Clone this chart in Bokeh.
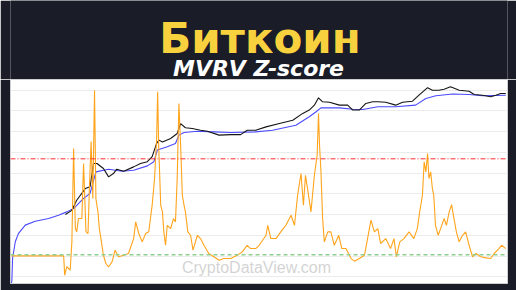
from bokeh.plotting import figure
from bokeh.models import Range1d, FixedTicker, Span, Label, LinearScale
from bokeh.layouts import column
from bokeh.core.properties import value
from bokeh.embed import file_html
from bokeh.resources import INLINE

# ---------------- data ----------------
z_years = [2009.00, 2010.52, 2010.55, 2010.61, 2010.71, 2010.76, 2010.81, 2010.86, 2010.90, 2010.95,
           2011.05, 2011.10, 2011.17, 2011.23, 2011.27, 2011.32, 2011.37, 2011.42, 2011.46, 2011.52,
           2011.56, 2011.62, 2011.68, 2011.75, 2011.83, 2011.93, 2012.02, 2012.12, 2012.27, 2012.41,
           2012.56, 2012.62, 2012.71, 2012.81, 2012.91, 2013.00, 2013.10, 2013.17, 2013.23, 2013.26,
           2013.29, 2013.35, 2013.40, 2013.44, 2013.49, 2013.54, 2013.64, 2013.72, 2013.78, 2013.83,
           2013.88, 2013.93, 2013.98, 2014.03, 2014.07, 2014.14, 2014.22, 2014.29, 2014.42, 2014.51,
           2014.61, 2014.75, 2014.90, 2015.05, 2015.19, 2015.39, 2015.58, 2015.73, 2015.87, 2015.97,
           2016.12, 2016.22, 2016.42, 2016.47, 2016.56, 2016.71, 2016.85, 2017.00, 2017.15, 2017.25,
           2017.34, 2017.44, 2017.51, 2017.57, 2017.63, 2017.73, 2017.83, 2017.91, 2017.95, 2017.98,
           2018.02, 2018.07, 2018.12, 2018.22, 2018.31, 2018.41, 2018.54, 2018.63, 2018.75, 2018.90,
           2019.00, 2019.14, 2019.29, 2019.38, 2019.48, 2019.58, 2019.68, 2019.76, 2019.91, 2020.05,
           2020.15, 2020.22, 2020.32, 2020.44, 2020.59, 2020.73, 2020.83, 2020.90, 2020.98, 2021.03,
           2021.08, 2021.13, 2021.17, 2021.22, 2021.27, 2021.31, 2021.36, 2021.44, 2021.51, 2021.61,
           2021.68, 2021.76, 2021.83, 2021.90, 2021.97, 2022.05, 2022.15, 2022.24, 2022.34, 2022.44,
           2022.54, 2022.68, 2022.83, 2022.97, 2023.07, 2023.21, 2023.29, 2023.41]
z_score = [-0.08, -0.08, -1.50, -0.86, -1.13, 0.96, 7.75, 1.91, 1.67, 2.64,
           2.64, 6.66, 1.69, 1.55, 4.83, 8.26, 4.10, 12.01, 4.10, 3.13,
           1.91, 0.96, -0.04, -0.64, -0.88, -0.52, 0.33, -0.15, -0.04, 0.09,
           1.18, 2.40, 1.55, 0.94, 1.55, 1.67, 3.61, 5.56, 8.48, 11.89,
           7.99, 3.61, 3.13, 1.67, 0.69, 2.15, 1.91, 2.64, 2.40, 5.56,
           11.04, 7.99, 4.34, 3.61, 3.13, 1.67, 1.42, 0.33, 1.42, 1.18,
           0.69, 0.09, -0.15, -0.40, -0.28, -0.28, -0.04, 0.21, 0.69, 0.45,
           0.45, 0.69, 1.42, 2.15, 1.18, 1.18, 1.67, 2.15, 2.88, 2.15,
           4.34, 5.93, 3.61, 5.80, 4.83, 3.13, 5.80, 7.26, 10.31, 7.99,
           6.17, 2.64, 0.94, 1.67, 1.67, 0.69, 1.42, 0.45, 0.45, -0.28,
           -0.47, -0.28, -0.04, 1.18, 2.52, 1.67, 1.91, 0.82, 1.18, 0.45,
           1.18, -0.15, 0.94, 1.18, 1.67, 1.18, 1.91, 3.13, 4.34, 6.78,
           6.05, 7.39, 5.56, 6.05, 4.83, 4.34, 2.15, 1.42, 1.91, 2.64,
           2.15, 3.13, 3.66, 2.64, 1.67, 0.94, 1.42, 1.67, 0.69, -0.15,
           0.09, -0.15, -0.23, -0.28, 0.09, 0.45, 0.69, 0.45]

rc_years = [2009.00, 2009.01, 2009.03, 2009.11, 2009.20, 2009.40, 2009.69, 2010.08, 2010.37, 2010.61,
            2010.81, 2011.10, 2011.29, 2011.46, 2011.83, 2012.22, 2012.56, 2012.96, 2013.15, 2013.25,
            2013.54, 2013.78, 2013.88, 2014.03, 2014.42, 2014.90, 2015.39, 2016.12, 2016.61, 2017.29,
            2017.68, 2017.88, 2018.02, 2018.56, 2018.95, 2019.24, 2019.68, 2020.20, 2020.78, 2021.08,
            2021.37, 2021.86, 2022.34, 2022.73, 2023.41]
realized_cap = [5.0e2, 6.8e2, 7.6e3, 4.9e4, 1.2e5, 3.1e5, 4.8e5, 6.5e5, 9.3e5, 1.35e6,
                1.95e6, 6.0e6, 1.05e7, 1.15e8, 1.55e8, 1.23e8, 1.38e8, 2.24e8, 3.55e8, 1.29e9,
                1.86e9, 2.69e9, 6.8e9, 9.1e9, 1.05e10, 9.8e9, 9.1e9, 9.8e9, 1.17e10, 2.04e10,
                5.2e10, 9.1e10, 1.41e11, 1.41e11, 1.2e11, 1.17e11, 1.58e11, 1.58e11, 1.9e11, 4.0e11,
                5.4e11, 6.5e11, 6.2e11, 5.4e11, 5.75e11]

mc_years = [2010.57, 2010.76, 2010.90, 2011.15, 2011.29, 2011.39, 2011.49, 2011.68, 2011.83, 2011.97,
            2012.07, 2012.27, 2012.56, 2012.76, 2012.96, 2013.10, 2013.23, 2013.30, 2013.40, 2013.64,
            2013.83, 2013.93, 2014.07, 2014.27, 2014.51, 2014.71, 2015.05, 2015.39, 2015.68, 2015.87,
            2016.12, 2016.42, 2016.81, 2017.20, 2017.49, 2017.68, 2017.83, 2017.95, 2018.07, 2018.27,
            2018.56, 2018.80, 2018.95, 2019.14, 2019.33, 2019.53, 2019.68, 2019.91, 2020.20, 2020.40,
            2020.69, 2020.88, 2021.13, 2021.27, 2021.46, 2021.61, 2021.80, 2022.05, 2022.34, 2022.49,
            2022.73, 2022.97, 2023.12, 2023.26, 2023.41]
market_cap = [1.0e6, 1.6e6, 4.9e6, 1.8e7, 2.2e7, 2.9e8, 2.9e8, 1.66e8, 6.6e7, 9.5e7,
              1.55e8, 1.23e8, 2.0e8, 2.9e8, 3.55e8, 6.2e8, 2.7e9, 3.9e9, 3.2e9, 4.7e9,
              8.1e9, 2.45e10, 1.55e10, 1.41e10, 1.17e10, 1.05e10, 6.8e9, 7.2e9, 7.2e9, 1.17e10,
              1.17e10, 1.7e10, 2.45e10, 3.55e10, 7.6e10, 1.1e11, 1.9e11, 4.3e11, 2.75e11, 2.6e11,
              1.9e11, 1.9e11, 1.1e11, 1.1e11, 2.3e11, 2.75e11, 2.75e11, 2.6e11, 1.9e11, 2.6e11,
              2.95e11, 5.75e11, 1.32e12, 1.0e12, 1.0e12, 1.12e12, 1.45e12, 1.0e12, 8.9e11, 6.2e11,
              5.75e11, 4.8e11, 5.75e11, 6.9e11, 6.9e11]

z_thresholds = [7.0, 0.0]          # red (top) and green (bottom) levels
cap_gridlines = [1e3, 1e4, 1e5, 1e6, 1e7, 1e8, 1e9, 1e10, 1e11, 1e12]

title_text = "Биткоин"
subtitle_text = "MVRV Z-score"
watermark_text = "CryptoDataView.com"

BG = "#1a1c27"

# ---------------- header (titles) ----------------
head = figure(width=516, height=79, output_backend="svg", toolbar_location=None,
              x_range=Range1d(0, 516), y_range=Range1d(79, 0),
              min_border=0, background_fill_color=BG, border_fill_color=BG,
              outline_line_color=None)
head.axis.visible = False
head.grid.visible = False
head.text(x=[259], y=[38], text=[title_text], text_align="center", text_baseline="alphabetic",
          text_font=value("DejaVu Sans"), text_font_style="bold", text_font_size="42px",
          text_color="#f7d23e")
head.text(x=[257.5], y=[67.5], text=[subtitle_text], text_align="center", text_baseline="alphabetic",
          text_font=value("DejaVu Sans"), text_font_style="bold italic", text_font_size="22px",
          text_color="#ffffff")

# ---------------- main chart ----------------
p = figure(width=516, height=211, output_backend="svg", toolbar_location=None,
           y_axis_type="log",
           x_range=Range1d(2008.97, 2023.46),
           y_range=Range1d(10 ** 2.675, 10 ** 12.516),
           min_border_left=10, min_border_right=9, min_border_top=0, min_border_bottom=7,
           background_fill_color="white", border_fill_color=BG,
           outline_line_color="#cfcfcf")
p.extra_y_ranges = {"z": Range1d(-2.10, 12.79)}
p.extra_y_scales = {"z": LinearScale()}

p.xaxis.visible = False
p.yaxis.visible = False
p.xgrid.visible = False
p.ygrid.ticker = FixedTicker(ticks=cap_gridlines)
p.ygrid.grid_line_color = "#ececec"
p.ygrid.grid_line_width = 1

p.line(rc_years, realized_cap, line_color="#4a4aff", line_width=1.1)
p.line(mc_years, market_cap, line_color="#151515", line_width=1.1)

p.add_layout(Span(location=z_thresholds[0], dimension="width", y_range_name="z",
                  line_color="#ff3030", line_width=1, line_dash="5 2 1 2"))
p.add_layout(Span(location=z_thresholds[1], dimension="width", y_range_name="z",
                  line_color="#8fd08f", line_width=1.5, line_dash="4 3"))

p.line(z_years, z_score, y_range_name="z", line_color="#ffa41b", line_width=1.1)

p.add_layout(Label(x=246, y=16, x_units="screen", y_units="screen", text=watermark_text,
                   text_align="center", text_baseline="alphabetic",
                   text_font="Liberation Sans", text_font_size="16px",
                   text_color="#cccccc", text_alpha=0.85))

layout = column(head, p, spacing=0)
open("out.html", "w").write(file_html(layout, INLINE))
